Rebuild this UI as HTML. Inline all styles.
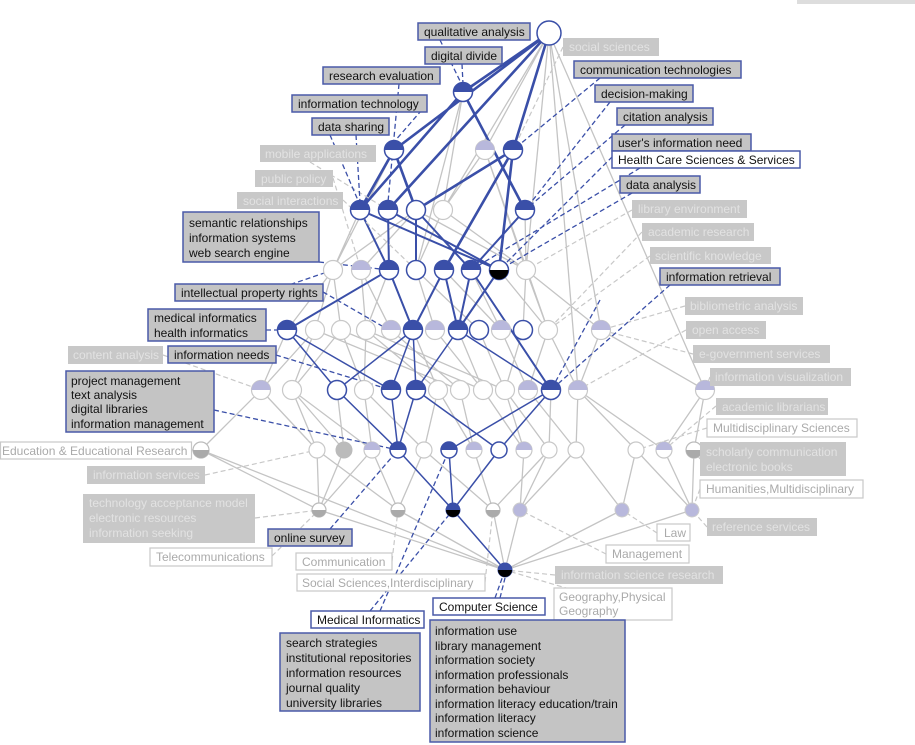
<!DOCTYPE html>
<html><head><meta charset="utf-8"><style>
html,body{margin:0;padding:0;background:#fff;width:915px;height:745px;overflow:hidden}
svg{display:block}
text{font-family:"Liberation Sans",Arial,sans-serif;font-size:12px}
.hb{fill:#c4c4c4;stroke:#4a5aa8;stroke-width:1.5}
.hw{fill:#fff;stroke:#4a5aa8;stroke-width:1.5}
.fb{fill:#c8c8c8}
.gw{fill:#fff;stroke:#c8c8c8;stroke-width:1.2}
.t{fill:#111}
.tf{fill:#e2e2e2}
.tg{fill:#aaa}
</style></head><body>
<svg width="915" height="745" viewBox="0 0 915 745" xmlns="http://www.w3.org/2000/svg">
<defs>
<g id="B"><circle r="9.5" fill="#fff" stroke="#3a4fa8" stroke-width="1.5"/><path d="M-9.5 0A9.5 9.5 0 0 1 9.5 0Z" fill="#3a4fa8"/></g>
<g id="W"><circle r="9.5" fill="#fff" stroke="#3a4fa8" stroke-width="1.5"/></g>
<g id="G"><circle r="9.5" fill="#fff" stroke="#c8c8c8" stroke-width="1.2"/></g>
<g id="L"><circle r="9.5" fill="#fff" stroke="#c8c8c8" stroke-width="1.2"/><path d="M-9.5 0A9.5 9.5 0 0 1 9.5 0Z" fill="#b8b8dc"/></g>
<g id="K"><circle r="9.5" fill="#fff" stroke="#3a4fa8" stroke-width="1.5"/><path d="M-9.5 0A9.5 9.5 0 0 0 9.5 0Z" fill="#000"/></g>
<g id="L9"><circle r="8" fill="#fff" stroke="#c8c8c8" stroke-width="1.2"/><path d="M-8 0A8 8 0 0 1 8 0Z" fill="#b8b8dc"/></g>
<g id="G9"><circle r="8" fill="#fff" stroke="#c8c8c8" stroke-width="1.2"/></g>
<g id="B9"><circle r="8" fill="#fff" stroke="#3a4fa8" stroke-width="1.5"/><path d="M-8 0A8 8 0 0 1 8 0Z" fill="#3a4fa8"/></g>
<g id="W9"><circle r="8" fill="#fff" stroke="#3a4fa8" stroke-width="1.5"/></g>
<g id="Q9"><circle r="8" fill="#fff" stroke="#bbb" stroke-width="1.2"/><path d="M-8 0A8 8 0 0 0 8 0Z" fill="#aaa"/></g>
<g id="Q7"><circle r="7" fill="#fff" stroke="#bbb" stroke-width="1.2"/><path d="M-7 0A7 7 0 0 0 7 0Z" fill="#aaa"/></g>
<g id="L7"><circle r="7" fill="#b8b8dc" stroke="#ccc" stroke-width="1"/></g>
<g id="D7"><circle r="7" fill="#3a4fa8" stroke="#3a4fa8" stroke-width="1"/><path d="M-7 0A7 7 0 0 0 7 0Z" fill="#000"/></g>
</defs>

<rect x="797" y="0" width="118" height="4" fill="#ddd"/>

<path fill="none" stroke="#c4c4c4" stroke-width="1.3" d="
M549 33L485 150M549 33L526 270M549 33L601 330M549 33L705 390M549 33L443 210M549 33L578 390
M463 92L443 210M463 92L416 270M485 150L443 210M485 150L526 270M485 150L548 330M394 150L333 270
M360 210L333 270M416 210L361 270M443 210L416 270M443 210L526 270M525 210L526 270M416 210L333 270M416 210L526 270
M333 270L315 330M333 270L341 330M361 270L366 330M361 270L391 330M416 270L435 330M416 270L479 330M444 270L501 330
M526 270L523 330M526 270L548 330M471 270L501 330M499 270L548 330M389 270L366 330M333 270L287 330M526 270L601 330
M315 330L261 390M315 330L292 390M341 330L292 390M341 330L364 390M366 330L364 390M366 330L438 390M391 330L460 390
M435 330L483 390M479 330L505 390M501 330L528 390M523 330L505 390M548 330L578 390M601 330L578 390M601 330L705 390
M458 330L483 390M413 330L438 390M287 330L261 390M341 330L483 390M366 330L505 390M315 330L460 390M548 330L528 390
M261 390L201 450M261 390L317 450M292 390L317 450M292 390L344 450M364 390L372 450M364 390L424 450M438 390L424 450
M460 390L474 450M483 390L524 450M505 390L549 450M528 390L576 450M578 390L576 450M578 390L636 450M705 390L664 450
M705 390L694 450M551 390L549 450M337 390L344 450M292 390L372 450M438 390L474 450M505 390L524 450M578 390L664 450
M201 450L319 510M317 450L319 510M344 450L319 510M372 450L398 510M424 450L398 510M424 450L493 510M474 450L493 510
M524 450L520 510M549 450L520 510M576 450L622 510M636 450L622 510M664 450L692 510M694 450L692 510M317 450L398 510
M549 450L493 510M576 450L520 510M372 450L319 510M636 450L692 510
M319 510L505 570M398 510L505 570M493 510L505 570M520 510L505 570M622 510L505 570M692 510L505 570M201 450L505 570
"/>

<path fill="none" stroke="#3a4fa8" stroke-width="2.6" d="
M549 33L463 92M549 33L394 150M549 33L513 150M549 33L388 210
M463 92L360 210M463 92L525 210M394 150L360 210M394 150L416 210M513 150L416 210M513 150L499 270M513 150L444 270
"/>
<path fill="none" stroke="#3a4fa8" stroke-width="2" d="
M525 210L471 270M360 210L389 270M360 210L499 270M388 210L389 270M388 210L499 270M416 210L416 270M416 210L471 270
M389 270L413 330M444 270L413 330M444 270L458 330M471 270L458 330M499 270L458 330M389 270L287 330M471 270L551 390
"/>
<path fill="none" stroke="#3a4fa8" stroke-width="1.5" d="
M287 330L337 390M287 330L391 390M413 330L391 390M413 330L416 390M458 330L416 390M458 330L551 390M413 330L337 390
M391 390L398 450M416 390L398 450M416 390L499 450M551 390L449 450M551 390L499 450M337 390L398 450
M398 450L453 510M449 450L453 510M499 450L453 510M453 510L505 570
"/>

<path fill="none" stroke="#c8c8c8" stroke-width="1.2" stroke-dasharray="5,3" d="
M632 210L526 270M642 232L548 330M650 256L548 330M685 306L601 330M686 330L578 390M693 354L601 330M710 377L705 390
M716 406L664 450M700 459L694 450M707 527L692 510M555 575L505 570M163 355L261 390M205 475L317 450M255 518L319 510
M343 200L416 270M333 178L361 270M310 162L388 210M563 47L513 150M192 450L201 450M272 556L319 510M392 561L398 510
M485 582L493 510M606 554L520 510M657 533L622 510M700 489L692 510M707 428L636 450M600 598L505 570
"/>
<path fill="none" stroke="#3a4fa8" stroke-width="1.3" stroke-dasharray="5,3" d="
M462 64L463 84M440 40L462 85M399 84L388 202M427 104L394 142M356 135L360 202M330 135L360 205M600 78L513 150M610 102L525 210
M625 125L525 210M618 151L499 270M640 168L471 270M632 193L499 270M319 262L389 270M323 292L389 330M266 330L287 330
M276 355L391 390M214 410L398 450M670 285L551 390M330 529L398 450M370 611L453 510M380 611L449 450M495 598L505 570M500 598L505 578
M600 300L551 390M245 300L333 270
"/>

<circle cx="549" cy="33" r="12" fill="#fff" stroke="#3a4fa8" stroke-width="1.5"/>
<use href="#B" x="463" y="92"/>
<use href="#B" x="394" y="150"/><use href="#L" x="485" y="150"/><use href="#B" x="513" y="150"/>
<use href="#B" x="360" y="210"/><use href="#B" x="388" y="210"/><use href="#W" x="416" y="210"/><use href="#G" x="443" y="210"/><use href="#B" x="525" y="210"/>
<use href="#G" x="333" y="270"/><use href="#L" x="361" y="270"/><use href="#B" x="389" y="270"/><use href="#W" x="416" y="270"/><use href="#B" x="444" y="270"/><use href="#B" x="471" y="270"/><use href="#K" x="499" y="270"/><use href="#G" x="526" y="270"/>
<use href="#B" x="287" y="330"/><use href="#G" x="315" y="330"/><use href="#G" x="341" y="330"/><use href="#G" x="366" y="330"/><use href="#L" x="391" y="330"/><use href="#B" x="413" y="330"/><use href="#L" x="435" y="330"/><use href="#B" x="458" y="330"/><use href="#W" x="479" y="330"/><use href="#L" x="501" y="330"/><use href="#W" x="523" y="330"/><use href="#G" x="548" y="330"/><use href="#L" x="601" y="330"/>
<use href="#L" x="261" y="390"/><use href="#G" x="292" y="390"/><use href="#W" x="337" y="390"/><use href="#G" x="364" y="390"/><use href="#B" x="391" y="390"/><use href="#B" x="416" y="390"/><use href="#G" x="438" y="390"/><use href="#G" x="460" y="390"/><use href="#G" x="483" y="390"/><use href="#G" x="505" y="390"/><use href="#L" x="528" y="390"/><use href="#B" x="551" y="390"/><use href="#L" x="578" y="390"/><use href="#L" x="705" y="390"/>
<use href="#Q9" x="201" y="450"/><use href="#G9" x="317" y="450"/><circle cx="344" cy="450" r="8" fill="#bbb" stroke="#bbb"/><use href="#L9" x="372" y="450"/><use href="#B9" x="398" y="450"/><use href="#G9" x="424" y="450"/><use href="#B9" x="449" y="450"/><use href="#L9" x="474" y="450"/><use href="#W9" x="499" y="450"/><use href="#L9" x="524" y="450"/><use href="#G9" x="549" y="450"/><use href="#G9" x="576" y="450"/><use href="#G9" x="636" y="450"/><use href="#L9" x="664" y="450"/><use href="#Q9" x="694" y="450"/>
<use href="#Q7" x="319" y="510"/><use href="#Q7" x="398" y="510"/><use href="#D7" x="453" y="510"/><use href="#Q7" x="493" y="510"/><use href="#L7" x="520" y="510"/><use href="#L7" x="622" y="510"/><use href="#L7" x="692" y="510"/>
<use href="#D7" x="505" y="570"/>

<g>
<rect class="fb" x="563" y="38" width="96" height="18"/><text class="tf" x="569" y="51">social sciences</text>
<rect class="fb" x="260" y="145" width="116" height="17"/><text class="tf" x="265" y="158">mobile applications</text>
<rect class="fb" x="255" y="170" width="78" height="17"/><text class="tf" x="261" y="183">public policy</text>
<rect class="fb" x="237" y="192" width="106" height="17"/><text class="tf" x="243" y="205">social interactions</text>
<rect class="fb" x="632" y="200" width="115" height="18"/><text class="tf" x="638" y="213">library environment</text>
<rect class="fb" x="642" y="223" width="112" height="18"/><text class="tf" x="648" y="236">academic research</text>
<rect class="fb" x="650" y="247" width="121" height="17"/><text class="tf" x="655" y="260">scientific knowledge</text>
<rect class="fb" x="685" y="297" width="118" height="18"/><text class="tf" x="690" y="310">bibliometric analysis</text>
<rect class="fb" x="686" y="321" width="80" height="18"/><text class="tf" x="692" y="334">open access</text>
<rect class="fb" x="693" y="345" width="137" height="18"/><text class="tf" x="699" y="358">e-government services</text>
<rect class="fb" x="710" y="368" width="141" height="18"/><text class="tf" x="715" y="381">information visualization</text>
<rect class="fb" x="716" y="398" width="112" height="17"/><text class="tf" x="722" y="411">academic librarians</text>
<rect class="fb" x="68" y="346" width="95" height="18"/><text class="tf" x="73" y="359">content analysis</text>
<rect class="fb" x="87" y="466" width="118" height="18"/><text class="tf" x="93" y="479">information services</text>
<rect class="fb" x="83" y="494" width="172" height="49"/><text class="tf" x="89" y="507">technology acceptance model</text><text class="tf" x="89" y="522">electronic resources</text><text class="tf" x="89" y="537">information seeking</text>
<rect class="fb" x="700" y="442" width="146" height="34"/><text class="tf" x="706" y="456">scholarly communication</text><text class="tf" x="706" y="471">electronic books</text>
<rect class="fb" x="707" y="518" width="110" height="18"/><text class="tf" x="712" y="531">reference services</text>
<rect class="fb" x="555" y="566" width="168" height="18"/><text class="tf" x="561" y="579">information science research</text>
</g>

<g>
<rect class="gw" x="0.5" y="442" width="191" height="17"/><text class="tg" x="2" y="455">Education &amp; Educational Research</text>
<rect class="gw" x="707" y="419" width="150" height="18"/><text class="tg" x="713" y="432">Multidisciplinary Sciences</text>
<rect class="gw" x="700" y="480" width="163" height="18"/><text class="tg" x="706" y="493">Humanities,Multidisciplinary</text>
<rect class="gw" x="657" y="524" width="33" height="17"/><text class="tg" x="664" y="537">Law</text>
<rect class="gw" x="150" y="548" width="122" height="18"/><text class="tg" x="156" y="561">Telecommunications</text>
<rect class="gw" x="606" y="545" width="83" height="18"/><text class="tg" x="612" y="558">Management</text>
<rect class="gw" x="296" y="553" width="96" height="17"/><text class="tg" x="302" y="566">Communication</text>
<rect class="gw" x="297" y="574" width="188" height="17"/><text class="tg" x="302" y="587">Social Sciences,Interdisciplinary</text>
<rect class="gw" x="554" y="588" width="118" height="32"/><text class="tg" x="559" y="601">Geography,Physical</text><text class="tg" x="559" y="615">Geography</text>
</g>

<g>
<rect class="hb" x="418" y="23" width="112" height="17"/><text class="t" x="424" y="36">qualitative analysis</text>
<rect class="hb" x="425" y="47" width="77" height="17"/><text class="t" x="431" y="60">digital divide</text>
<rect class="hb" x="323" y="67" width="117" height="17"/><text class="t" x="329" y="80">research evaluation</text>
<rect class="hb" x="292" y="95" width="135" height="17"/><text class="t" x="298" y="108">information technology</text>
<rect class="hb" x="312" y="118" width="77" height="17"/><text class="t" x="318" y="131">data sharing</text>
<rect class="hb" x="574" y="61" width="167" height="17"/><text class="t" x="580" y="74">communication technologies</text>
<rect class="hb" x="595" y="85" width="98" height="17"/><text class="t" x="601" y="98">decision-making</text>
<rect class="hb" x="617" y="108" width="96" height="17"/><text class="t" x="623" y="121">citation analysis</text>
<rect class="hb" x="612" y="134" width="139" height="17"/><text class="t" x="618" y="147">user's information need</text>
<rect class="hw" x="612" y="151" width="188" height="17"/><text class="t" x="618" y="164">Health Care Sciences &amp; Services</text>
<rect class="hb" x="620" y="176" width="80" height="17"/><text class="t" x="626" y="189">data analysis</text>
<rect class="hb" x="183" y="212" width="136" height="50"/><text class="t" x="189" y="227">semantic relationships</text><text class="t" x="189" y="242">information systems</text><text class="t" x="189" y="257">web search engine</text>
<rect class="hb" x="175" y="284" width="148" height="17"/><text class="t" x="181" y="297">intellectual property rights</text>
<rect class="hb" x="148" y="309" width="118" height="32"/><text class="t" x="154" y="322">medical informatics</text><text class="t" x="154" y="337">health informatics</text>
<rect class="hb" x="168" y="346" width="108" height="17"/><text class="t" x="174" y="359">information needs</text>
<rect class="hb" x="66" y="371" width="148" height="61"/><text class="t" x="71" y="385">project management</text><text class="t" x="71" y="399">text analysis</text><text class="t" x="71" y="413">digital libraries</text><text class="t" x="71" y="428">information management</text>
<rect class="hb" x="660" y="268" width="120" height="17"/><text class="t" x="666" y="281">information retrieval</text>
<rect class="hb" x="268" y="529" width="84" height="17"/><text class="t" x="274" y="542">online survey</text>
<rect class="hw" x="311" y="611" width="113" height="17"/><text class="t" x="317" y="624">Medical Informatics</text>
<rect class="hw" x="433" y="598" width="112" height="17"/><text class="t" x="439" y="611">Computer Science</text>
<rect class="hb" x="280" y="633" width="140" height="78"/><text class="t" x="286" y="647">search strategies</text><text class="t" x="286" y="662">institutional repositories</text><text class="t" x="286" y="677">information resources</text><text class="t" x="286" y="692">journal quality</text><text class="t" x="286" y="707">university libraries</text>
<rect class="hb" x="430" y="620" width="195" height="122"/><text class="t" x="435" y="635">information use</text><text class="t" x="435" y="650">library management</text><text class="t" x="435" y="664">information society</text><text class="t" x="435" y="679">information professionals</text><text class="t" x="435" y="693">information behaviour</text><text class="t" x="435" y="708">information literacy education/train</text><text class="t" x="435" y="722">information literacy</text><text class="t" x="435" y="737">information science</text>
</g>
</svg>
</body></html>
